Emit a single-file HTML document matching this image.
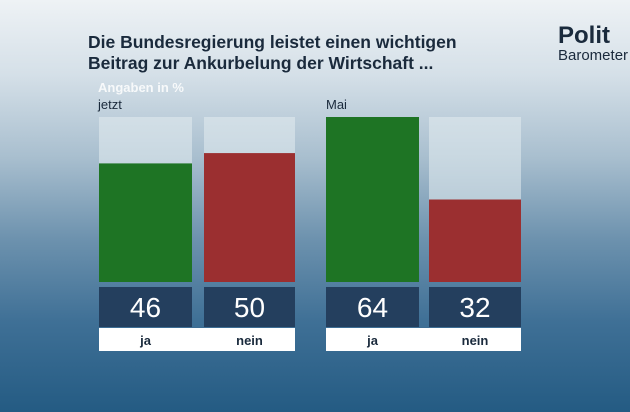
<!DOCTYPE html>
<html><head><meta charset="utf-8"><style>
body{margin:0;width:630px;height:412px;overflow:hidden;font-family:"Liberation Sans",sans-serif}
#bg{position:absolute;left:0;top:0;width:630px;height:412px;background:linear-gradient(180deg,#eef2f5 0%,#d5e0e8 18%,#a9bfcf 38%,#6d92ae 58%,#3f7096 78%,#245b83 100%)}
.t{position:absolute;font-weight:bold;color:#1a2a3c}
</style></head><body>
<div id="bg"></div>
<div class="t" style="left:88px;top:32px;font-size:17.5px;line-height:21px">Die Bundesregierung leistet einen wichtigen<br>Beitrag zur Ankurbelung der Wirtschaft ...</div>
<div style="position:absolute;left:558px;top:24px;color:#1a2a3c">
<div style="font-size:24px;font-weight:bold;line-height:24px">Polit</div>
<div style="font-size:15px;line-height:16px">Barometer</div></div>
<div style="position:absolute;left:98px;top:80px;font-size:13px;color:#fff;font-weight:bold;opacity:.85">Angaben in %</div>
<div style="position:absolute;left:98px;top:97px;font-size:13px;color:#1a2a3c">jetzt</div>
<div style="position:absolute;left:326px;top:97px;font-size:13px;color:#1a2a3c">Mai</div>
<svg id="c" width="630" height="412" style="position:absolute;left:0;top:0"></svg>
<script>
const categories=["ja","nein","ja","nein"];
const values=[46,50,64,32];
const colors=["#1e7424","#9b2f30","#1e7424","#9b2f30"];
const xs=[99,204,326,429];
const ws=[93,91,93,92];
const maxV=64,top0=117,base=282;
function y(v){return base-(base-top0)*v/maxV;}
const svg=document.getElementById('c');const NS="http://www.w3.org/2000/svg";
function el(t,a){const e=document.createElementNS(NS,t);for(const k in a)e.setAttribute(k,a[k]);svg.appendChild(e);return e;}
values.forEach((v,i)=>{
 const p=el('rect',{x:xs[i],y:top0,width:ws[i],height:base-top0,fill:'#e4ecf1','fill-opacity':0.55});
 
 
 const b=el('rect',{x:xs[i],y:y(v),width:ws[i],height:base-y(v),fill:colors[i]});
 
 
 const vb=el('rect',{x:xs[i],y:287,width:ws[i],height:40,fill:'#243f5e'});
 
 
 const vt=el('text',{x:xs[i]+ws[i]/2,y:317,'text-anchor':'middle','font-size':28,fill:'#fff','font-family':'Liberation Sans, sans-serif'});
 vt.textContent=v;
 
 
});
[[99,196],[326,195]].forEach(([x,w])=>{
 const r=el('rect',{x:x,y:328,width:w,height:23,fill:'#fff'});
 
 
});
values.forEach((v,i)=>{
 const t=el('text',{x:xs[i]+ws[i]/2,y:345,'text-anchor':'middle','font-size':13,'font-weight':'bold',fill:'#1a2a3c','font-family':'Liberation Sans, sans-serif'});
 t.textContent=categories[i];
 
 
});
</script>
</body></html>
